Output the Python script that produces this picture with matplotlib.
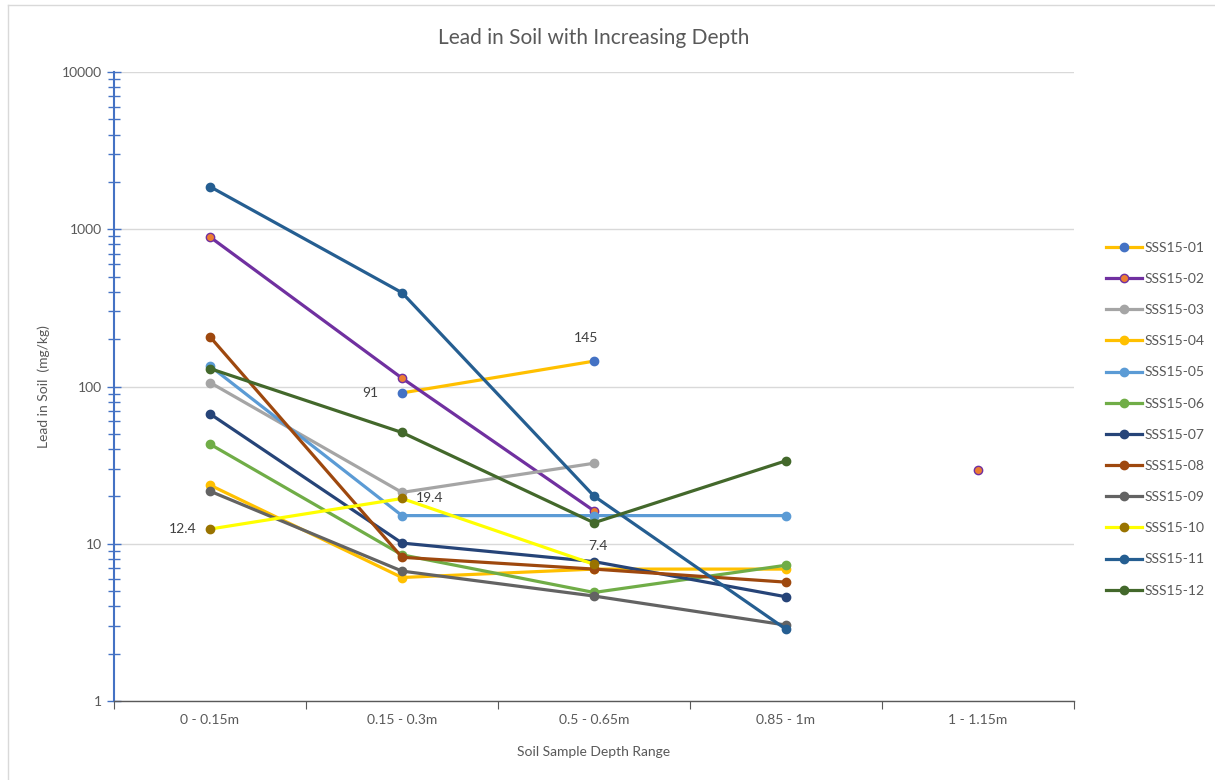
import numpy as np
import matplotlib
matplotlib.use("Agg")
import matplotlib.pyplot as plt
from matplotlib.ticker import FixedLocator, NullFormatter, FixedFormatter
from matplotlib.lines import Line2D

plt.rcParams['font.family'] = ['Lato', 'DejaVu Sans']

# depth ranges on the x axis
depths = ["0 - 0.15m", "0.15 - 0.3m", "0.5 - 0.65m", "0.85 - 1m", "1 - 1.15m"]
nan = np.nan

# lead concentration (mg/kg) per sample site, NaN = not sampled
sss01 = [nan, 91, 145, nan, nan]
sss02 = [893, 113, 16.2, nan, 29.5]
sss03 = [106, 21.2, 32.5, nan, nan]
sss04 = [23.6, 6.1, 6.9, 6.9, nan]
sss05 = [135, 15.1, 15.1, 15.1, nan]
sss06 = [43, 8.5, 4.9, 7.3, nan]
sss07 = [67, 10.1, 7.7, 4.6, nan]
sss08 = [207, 8.2, 6.9, 5.7, nan]
sss09 = [21.6, 6.7, 4.65, 3.04, nan]
sss10 = [12.4, 19.4, 7.4, nan, nan]
sss11 = [1866, 395, 20.1, 2.86, nan]
sss12 = [130, 51, 13.6, 33.7, nan]

names = ["SSS15-01", "SSS15-02", "SSS15-03", "SSS15-04", "SSS15-05", "SSS15-06",
         "SSS15-07", "SSS15-08", "SSS15-09", "SSS15-10", "SSS15-11", "SSS15-12"]
series = [sss01, sss02, sss03, sss04, sss05, sss06,
          sss07, sss08, sss09, sss10, sss11, sss12]
line_colors = ["#FFC000", "#7030A0", "#A5A5A5", "#FFC000", "#5B9BD5", "#70AD47",
               "#264478", "#9E480E", "#636363", "#FFFF00", "#255E91", "#43682B"]
marker_colors = ["#4472C4", "#ED7D31", "#A5A5A5", "#FFC000", "#5B9BD5", "#70AD47",
                 "#264478", "#9E480E", "#636363", "#997300", "#255E91", "#43682B"]
marker_edges = ["#4472C4", "#7030A0", "#A5A5A5", "#FFC000", "#5B9BD5", "#70AD47",
                "#264478", "#9E480E", "#636363", "#997300", "#255E91", "#43682B"]

fig = plt.figure(figsize=(12.15, 7.8), dpi=100)
ax = fig.add_axes([114 / 1215, 1 - 701 / 780, 960 / 1215, 629 / 780])

x = np.arange(len(depths))
for i, (name, vals) in enumerate(zip(names, series)):
    ax.plot(x, vals, color=line_colors[i], lw=2.3, marker='o', ms=6,
            markerfacecolor=marker_colors[i], markeredgecolor=marker_edges[i],
            markeredgewidth=1.0, label=name, zorder=3 + i)

# value labels
txt = dict(fontsize=10, color="#404040")
ax.annotate("91", (1, sss01[1]), xytext=(-17, 0), textcoords="offset points",
            ha="right", va="center", **txt)
ax.annotate("145", (2, sss01[2]), xytext=(-6, 12), textcoords="offset points",
            ha="center", va="bottom", **txt)
ax.annotate("12.4", (0, sss10[0]), xytext=(-10, 0), textcoords="offset points",
            ha="right", va="center", **txt)
ax.annotate("19.4", (1, sss10[1]), xytext=(10, 0), textcoords="offset points",
            ha="left", va="center", **txt)
ax.annotate("7.4", (2, sss10[2]), xytext=(3, 9), textcoords="offset points",
            ha="center", va="bottom", **txt)

ax.set_yscale('log')
ax.set_ylim(1, 10000)
ax.set_xlim(-0.5, len(depths) - 0.5)

major = [1, 10, 100, 1000, 10000]
minor = [m * d for d in [1, 10, 100, 1000] for m in range(2, 10)]
ax.yaxis.set_major_locator(FixedLocator(major))
ax.yaxis.set_major_formatter(FixedFormatter([str(v) for v in major]))
ax.yaxis.set_minor_locator(FixedLocator(minor))
ax.yaxis.set_minor_formatter(NullFormatter())
ax.tick_params(axis='y', which='major', direction='inout', length=10, width=1,
               color="#4472C4", labelsize=10, labelcolor="#595959", pad=4)
ax.tick_params(axis='y', which='minor', direction='inout', length=8, width=1,
               color="#4472C4")

ax.set_xticks(np.arange(-0.5, len(depths), 1.0))
ax.set_xticklabels([])
ax.set_xticks(x, minor=True)
ax.set_xticklabels(depths, minor=True)
ax.tick_params(axis='x', which='major', direction='out', length=6, color="#595959")
ax.tick_params(axis='x', which='minor', length=0, labelsize=10,
               labelcolor="#595959", pad=9)

ax.grid(axis='y', which='major', color="#D9D9D9", lw=1)
ax.set_axisbelow(True)
for s in ['top', 'right']:
    ax.spines[s].set_visible(False)
ax.spines['left'].set_color("#4472C4")
ax.spines['left'].set_linewidth(1.5)
ax.spines['bottom'].set_color("#595959")
ax.spines['bottom'].set_linewidth(1)

ax.set_title("Lead in Soil with Increasing Depth", fontsize=15, color="#595959", pad=20)
ax.set_xlabel("Soil Sample Depth Range", fontsize=10, color="#595959", labelpad=15)
ax.set_ylabel("Lead in Soil  (mg/kg)", fontsize=10, color="#595959", labelpad=8)

ax.legend(loc='upper left', bbox_to_anchor=(1.02, 0.75), frameon=False,
          fontsize=10, labelcolor="#595959", handlelength=2.6, handletextpad=0.2,
          labelspacing=1.38)

# chart-area border (left and top edges only show in frame)
bx, by = 8 / 1215, 1 - 5 / 780
fig.add_artist(Line2D([bx, bx], [0, by], transform=fig.transFigure,
                      color="#D9D9D9", lw=1))
fig.add_artist(Line2D([bx, 1], [by, by], transform=fig.transFigure,
                      color="#D9D9D9", lw=1))

plt.savefig("out.png", dpi=100)
plt.close()
